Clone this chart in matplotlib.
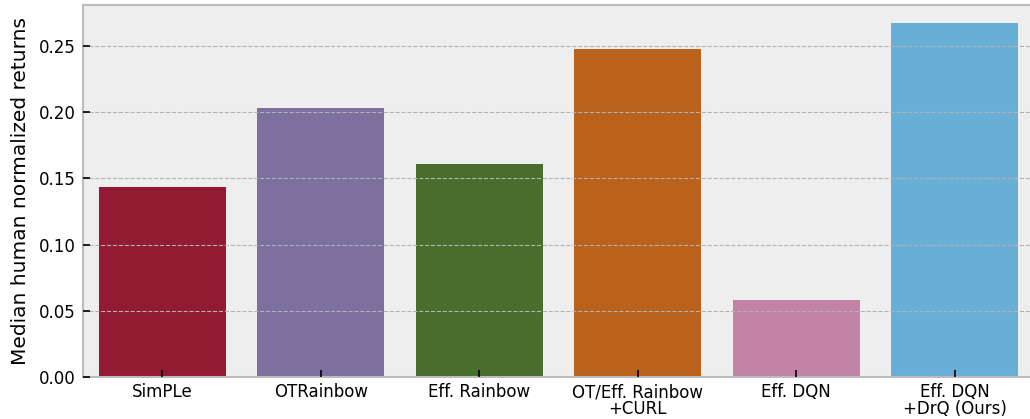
import matplotlib
matplotlib.use("Agg")
import matplotlib.pyplot as plt
import seaborn as sns

categories = ["SimPLe", "OTRainbow", "Eff. Rainbow", "OT/Eff. Rainbow\n+CURL", "Eff. DQN", "Eff. DQN\n+DrQ (Ours)"]
values = [0.1435, 0.2032, 0.1609, 0.2477, 0.0582, 0.2674]
base_colors = ["#A60628", "#7A68A6", "#467821", "#D55E00", "#CC79A7", "#56B4E9"]

plt.style.use("bmh")
plt.rcParams["font.family"] = ["DejaVu Sans"]

fig = plt.figure(figsize=(10.30, 4.19), dpi=100)
W, H = 1030, 419
left, right, top, bottom = 83, 1034, 5, 377
ax = fig.add_axes([left / W, 1 - bottom / H, (right - left) / W, (bottom - top) / H])

colors = [sns.desaturate(c, 0.75) for c in base_colors]
x = list(range(len(categories)))
ax.bar(x, values, width=0.8, color=colors, edgecolor="none", zorder=2)
ax.set_xlim(-0.5, len(categories) - 0.5)
ax.set_ylim(0, 0.281)
ax.set_yticks([0, 0.05, 0.10, 0.15, 0.20, 0.25])
ax.set_yticklabels(["0.00", "0.05", "0.10", "0.15", "0.20", "0.25"])
ax.set_xticks(x)
ax.set_xticklabels(categories, linespacing=0.9)
ax.grid(False, axis="x")
ax.grid(True, axis="y", color="#b2b2b2", linestyle="--", linewidth=0.8, zorder=3)
ax.set_axisbelow(False)
ax.tick_params(axis="both", labelsize=12, direction="in", color="black", length=5, width=1.2, pad=5.5)
ax.tick_params(axis="x", top=False, pad=4.5)
ax.tick_params(axis="y", right=False)
ax.set_ylabel("Median human normalized returns", fontsize=14.5, labelpad=6)
for s in ax.spines.values():
    s.set_color("#bcbcbc")
    s.set_linewidth(1.5)

fig.savefig("out.png", dpi=100)
